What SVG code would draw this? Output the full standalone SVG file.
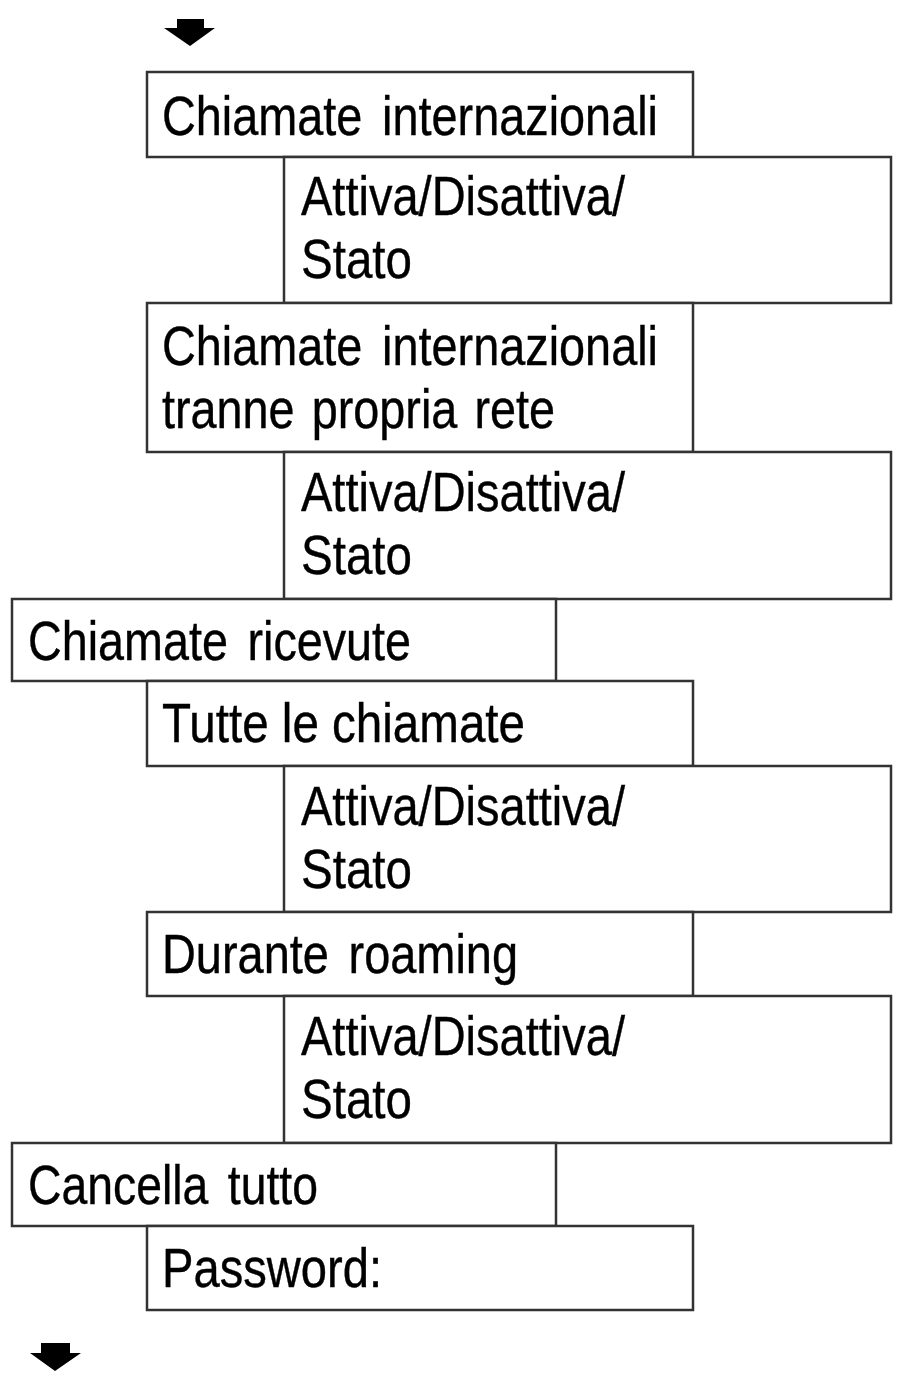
<svg xmlns="http://www.w3.org/2000/svg" width="901" height="1384" viewBox="0 0 901 1384">
<style>
.box{fill:#fff;stroke:#333;stroke-width:2.5}
.t{font-family:"Liberation Sans",Arial,sans-serif;font-size:56px;fill:#000;stroke:#000;stroke-width:0.4;word-spacing:8px}
.arr{fill:#000}
</style>
<rect width="901" height="1384" fill="#fff"/>
<g id="connectors">
<polygon class="arr" points="177,19 204,19 204,28 215,28 190,46 164,28 177,28"/>
<polygon class="arr" points="41,1343 70,1343 70,1353 81,1353 55,1371 30,1353 41,1353"/>
</g>
<g id="n1"><rect class="box" x="147" y="72" width="546" height="85"/>
<text class="t" x="162" y="135" textLength="496" lengthAdjust="spacingAndGlyphs">Chiamate internazionali</text></g>
<g id="n2"><rect class="box" x="284" y="157" width="607" height="146"/>
<text class="t" x="301" y="215" textLength="324" lengthAdjust="spacingAndGlyphs">Attiva/Disattiva/</text>
<text class="t" x="301" y="278" textLength="111" lengthAdjust="spacingAndGlyphs">Stato</text></g>
<g id="n3"><rect class="box" x="147" y="303" width="546" height="149"/>
<text class="t" x="162" y="365" textLength="496" lengthAdjust="spacingAndGlyphs">Chiamate internazionali</text>
<text class="t" x="162" y="428" textLength="393" lengthAdjust="spacingAndGlyphs" style="word-spacing:5px">tranne propria rete</text></g>
<g id="n4"><rect class="box" x="284" y="452" width="607" height="147"/>
<text class="t" x="301" y="511" textLength="324" lengthAdjust="spacingAndGlyphs">Attiva/Disattiva/</text>
<text class="t" x="301" y="574" textLength="111" lengthAdjust="spacingAndGlyphs">Stato</text></g>
<g id="n5"><rect class="box" x="12" y="599" width="544" height="82"/>
<text class="t" x="28" y="660" textLength="383" lengthAdjust="spacingAndGlyphs">Chiamate ricevute</text></g>
<g id="n6"><rect class="box" x="147" y="681" width="546" height="85"/>
<text class="t" x="162" y="742" textLength="363" lengthAdjust="spacingAndGlyphs" style="word-spacing:0">Tutte le chiamate</text></g>
<g id="n7"><rect class="box" x="284" y="766" width="607" height="146"/>
<text class="t" x="301" y="825" textLength="324" lengthAdjust="spacingAndGlyphs">Attiva/Disattiva/</text>
<text class="t" x="301" y="888" textLength="111" lengthAdjust="spacingAndGlyphs">Stato</text></g>
<g id="n8"><rect class="box" x="147" y="912" width="546" height="84"/>
<text class="t" x="162" y="973" textLength="356" lengthAdjust="spacingAndGlyphs">Durante roaming</text></g>
<g id="n9"><rect class="box" x="284" y="996" width="607" height="147"/>
<text class="t" x="301" y="1055" textLength="324" lengthAdjust="spacingAndGlyphs">Attiva/Disattiva/</text>
<text class="t" x="301" y="1118" textLength="111" lengthAdjust="spacingAndGlyphs">Stato</text></g>
<g id="n10"><rect class="box" x="12" y="1143" width="544" height="83"/>
<text class="t" x="28" y="1204" textLength="290" lengthAdjust="spacingAndGlyphs">Cancella tutto</text></g>
<g id="n11"><rect class="box" x="147" y="1226" width="546" height="84"/>
<text class="t" x="162" y="1287" textLength="220" lengthAdjust="spacingAndGlyphs">Password:</text></g>
</svg>
